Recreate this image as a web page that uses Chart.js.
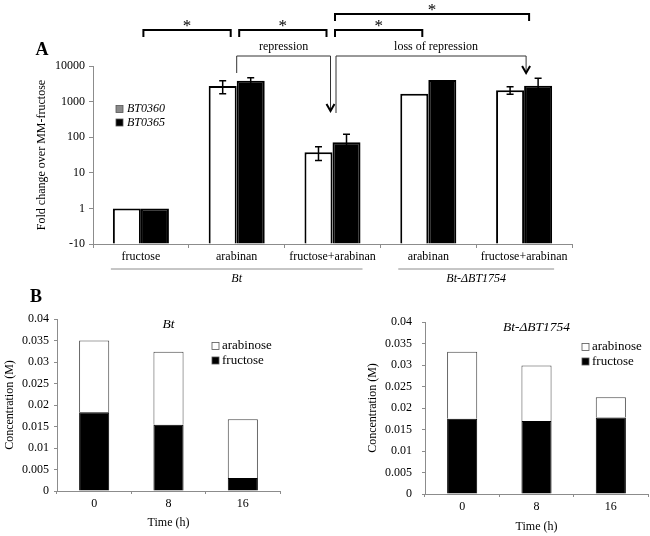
<!DOCTYPE html>
<html lang="en">
<head>
<meta charset="UTF-8">
<title>Fold change and sugar concentration</title>
<script src="https://cdn.jsdelivr.net/npm/chart.js"></script>
<style>
  body { margin: 0; background: #fff; }
  #wrap { position: relative; width: 650px; height: 536px; }
  canvas { position: absolute; }
</style>
</head>
<body>
<div id="wrap">
  <canvas id="chartA" width="650" height="284" style="left:0;top:0"></canvas>
  <canvas id="chartB1" width="325" height="252" style="left:0;top:284px"></canvas>
  <canvas id="chartB2" width="325" height="252" style="left:325px;top:284px"></canvas>
</div>
<script>
// panel A - fold change over MM-fructose (log axis)
const conditions = ['fructose', 'arabinan', 'fructose+arabinan', 'arabinan', 'fructose+arabinan'];
const strains = [{ name: 'Bt', from: 0, to: 2 }, { name: 'Bt-ΔBT1754', from: 3, to: 4 }];
const bt0360 = [1, 2750, 38, 1650, 2100];
const bt0365 = [1, 3850, 72, 4050, 2800];
const bt0360Err = [0, 1080, 16, 0, 500];
const bt0365Err = [0, 850, 50, 0, 1700];
const foldTicks = [0.1, 1, 10, 100, 1000, 10000];
const foldTickLabels = ['-10', '1', '10', '100', '1000', '10000'];
// significance brackets: [from, to, level]
const brackets = [[0, 1, 0], [1, 2, 0], [2, 3, 0], [2, 4, 1]];

// panel B - concentration (M) over time
const hours = ['0', '8', '16'];
const btFructose = [0.0183, 0.0154, 0.003];
const btArabinose = [0.0167, 0.017, 0.0137];
const mutFructose = [0.0175, 0.017, 0.0178];
const mutArabinose = [0.0156, 0.0129, 0.0047];

const serif = '"Liberation Serif", "Times New Roman", serif';
const axisGray = '#8c8c8c';

function arrowHead(ctx, x, y) {
  ctx.save();
  ctx.strokeStyle = '#000';
  ctx.lineWidth = 2;
  ctx.beginPath();
  ctx.moveTo(x - 4, y - 7);
  ctx.lineTo(x, y);
  ctx.lineTo(x + 4, y - 7);
  ctx.stroke();
  ctx.restore();
}

const panelA = {
  id: 'panelA',
  afterDatasetsDraw(chart) {
    const ctx = chart.ctx, y = chart.scales.y;
    ctx.save();
    ctx.strokeStyle = '#000';
    ctx.lineWidth = 1.5;
    [bt0360Err, bt0365Err].forEach((errs, d) => {
      const vals = chart.data.datasets[d].data;
      chart.getDatasetMeta(d).data.forEach((bar, i) => {
        if (!errs[i]) return;
        const yt = y.getPixelForValue(vals[i] + errs[i]);
        const yb = y.getPixelForValue(vals[i] - errs[i]);
        ctx.beginPath();
        ctx.moveTo(bar.x, yt); ctx.lineTo(bar.x, yb);
        ctx.moveTo(bar.x - 3.5, yt); ctx.lineTo(bar.x + 3.5, yt);
        ctx.moveTo(bar.x - 3.5, yb); ctx.lineTo(bar.x + 3.5, yb);
        ctx.stroke();
      });
    });
    ctx.restore();
  },
  afterDraw(chart) {
    const ctx = chart.ctx, x = chart.scales.x, area = chart.chartArea;
    const cx = i => x.getPixelForValue(i);
    const m0 = chart.getDatasetMeta(0).data, m1 = chart.getDatasetMeta(1).data;
    ctx.save();

    // panel letter
    ctx.fillStyle = '#000';
    ctx.font = 'bold 18px ' + serif;
    ctx.textAlign = 'center';
    ctx.textBaseline = 'middle';
    ctx.fillText('A', 42, area.top - 16);

    // legend
    const names = chart.data.datasets.map(d => d.label);
    const swatch = ['#8a8a8a', '#000'];
    ctx.font = 'italic 12px ' + serif;
    ctx.textAlign = 'left';
    names.forEach((n, i) => {
      const ly = area.top + 43 + i * 13.5;
      ctx.fillStyle = swatch[i];
      ctx.fillRect(area.left + 23, ly - 3.5, 7, 7);
      ctx.strokeStyle = '#555';
      ctx.lineWidth = 0.8;
      ctx.strokeRect(area.left + 23, ly - 3.5, 7, 7);
      ctx.fillStyle = '#000';
      ctx.fillText(n, area.left + 34, ly);
    });

    // strain group labels under the axis
    ctx.strokeStyle = axisGray;
    ctx.lineWidth = 1;
    ctx.textAlign = 'center';
    strains.forEach(s => {
      const l = m0[s.from].x - m0[s.from].width / 2 - 2;
      const r = m1[s.to].x + m1[s.to].width / 2 + 2;
      ctx.beginPath();
      ctx.moveTo(l, area.bottom + 25); ctx.lineTo(r, area.bottom + 25);
      ctx.stroke();
      ctx.fillText(s.name, (l + r) / 2, area.bottom + 35);
    });

    // significance brackets
    ctx.strokeStyle = '#000';
    ctx.lineWidth = 2;
    ctx.font = '17px ' + serif;
    brackets.forEach(([a, b, lvl]) => {
      const l = cx(a) + 2.5;
      const r = lvl ? cx(b) + 5 : cx(b) - 6;
      const top = area.top - (lvl ? 52 : 36);
      ctx.beginPath();
      ctx.moveTo(l, top + 7); ctx.lineTo(l, top); ctx.lineTo(r, top); ctx.lineTo(r, top + 7);
      ctx.stroke();
      ctx.fillText('*', (l + r) / 2, top - 3);
    });

    // repression / loss of repression arrows
    const yTop = area.top - 10;
    ctx.strokeStyle = '#333';
    ctx.lineWidth = 1;
    const rx0 = cx(1), rx1 = cx(2) - 2;
    ctx.beginPath();
    ctx.moveTo(rx0, area.top + 7); ctx.lineTo(rx0, yTop); ctx.lineTo(rx1, yTop); ctx.lineTo(rx1, area.top + 45);
    ctx.stroke();
    arrowHead(ctx, rx1, area.top + 45);
    const lx0 = cx(2) + 3.5, lx1 = cx(4) + 2;
    ctx.strokeStyle = '#333';
    ctx.lineWidth = 1;
    ctx.beginPath();
    ctx.moveTo(lx0, area.top + 47); ctx.lineTo(lx0, yTop); ctx.lineTo(lx1, yTop); ctx.lineTo(lx1, area.top + 7);
    ctx.stroke();
    arrowHead(ctx, lx1, area.top + 7);
    ctx.fillStyle = '#000';
    ctx.font = '12px ' + serif;
    ctx.fillText('repression', (rx0 + rx1) / 2, area.top - 19);
    ctx.fillText('loss of repression', (lx0 + lx1) / 2 + 5, area.top - 19);
    ctx.restore();
  }
};

new Chart(document.getElementById('chartA'), {
  type: 'bar',
  data: {
    labels: conditions,
    datasets: [
      { label: 'BT0360', data: bt0360, backgroundColor: '#fff', borderColor: '#000', borderWidth: 2, base: 0.1 },
      { label: 'BT0365', data: bt0365, backgroundColor: '#000', borderColor: '#000', borderWidth: 2, base: 0.1 }
    ]
  },
  options: {
    responsive: false,
    animation: false,
    devicePixelRatio: 1,
    categoryPercentage: 0.585,
    barPercentage: 1,
    layout: { padding: { top: 66, right: 78, left: 0, bottom: 0 } },
    plugins: { legend: { display: false }, tooltip: { enabled: false } },
    scales: {
      x: {
        afterFit: s => { s.height = 40; },
        ticks: { font: { family: serif, size: 12 }, color: '#000', padding: 2, maxRotation: 0, autoSkip: false },
        grid: { drawOnChartArea: false, tickLength: 4, color: axisGray, offset: true },
        border: { color: axisGray }
      },
      y: {
        type: 'logarithmic',
        min: 0.1,
        max: 10000,
        afterBuildTicks: s => { s.ticks = foldTicks.map(v => ({ value: v })); },
        afterFit: s => { s.width = 93; },
        ticks: { callback: (v, i) => foldTickLabels[i], font: { family: serif, size: 12 }, color: '#000', padding: 4 },
        grid: { drawOnChartArea: false, tickLength: 4, color: axisGray },
        border: { color: axisGray },
        title: { display: true, text: 'Fold change over MM-fructose', font: { family: serif, size: 12 }, color: '#000', padding: { top: 35, bottom: 0 } }
      }
    }
  },
  plugins: [panelA]
});

// panel B charts
function concChart(id, title, fructose, arabinose, box) {
  const decor = {
    id: 'decor' + id,
    afterDraw(chart) {
      const ctx = chart.ctx, area = chart.chartArea;
      ctx.save();
      ctx.fillStyle = '#000';
      ctx.textBaseline = 'middle';
      if (box.letter) {
        ctx.font = 'bold 18px ' + serif;
        ctx.textAlign = 'center';
        ctx.fillText(box.letter, 36, area.top - 22);
      }
      ctx.font = 'italic 13.5px ' + serif;
      ctx.textAlign = 'center';
      ctx.fillText(title, (area.left + area.right) / 2, area.top + 5);
      // legend: arabinose first, then fructose
      const items = [chart.data.datasets[1], chart.data.datasets[0]];
      ctx.font = '13px ' + serif;
      ctx.textAlign = 'left';
      items.forEach((d, i) => {
        const ly = area.top + box.legendTop + i * 14.5;
        const lx = area.right - box.legendRight;
        ctx.fillStyle = d.backgroundColor;
        ctx.fillRect(lx, ly - 3.5, 7, 7);
        ctx.strokeStyle = '#555';
        ctx.lineWidth = 0.8;
        ctx.strokeRect(lx, ly - 3.5, 7, 7);
        ctx.fillStyle = '#000';
        ctx.fillText(d.label, lx + 10, ly);
      });
      ctx.restore();
    }
  };
  return new Chart(document.getElementById(id), {
    type: 'bar',
    data: {
      labels: hours,
      datasets: [
        { label: 'fructose', data: fructose, backgroundColor: '#000', borderColor: '#000', borderWidth: 1 },
        { label: 'arabinose', data: arabinose, backgroundColor: '#fff', borderColor: '#444', borderWidth: 1 }
      ]
    },
    options: {
      responsive: false,
      animation: false,
      devicePixelRatio: 1,
      categoryPercentage: 1,
      barPercentage: 0.405,
      layout: { padding: box.padding },
      plugins: { legend: { display: false }, tooltip: { enabled: false } },
      scales: {
        x: {
          stacked: true,
          afterFit: s => { s.height = box.xHeight; },
          ticks: { font: { family: serif, size: 12 }, color: '#000', padding: 3 },
          grid: { drawOnChartArea: false, tickLength: 3, color: axisGray, offset: true },
          border: { color: axisGray },
          title: { display: true, text: 'Time (h)', font: { family: serif, size: 12 }, color: '#000', padding: { top: 0, bottom: box.xTitlePad } }
        },
        y: {
          stacked: true,
          min: 0,
          max: 0.04,
          afterFit: s => { s.width = box.yWidth; },
          ticks: { stepSize: 0.005, callback: v => String(+v.toFixed(3)), font: { family: serif, size: 12 }, color: '#000', padding: box.yTickPad },
          grid: { drawOnChartArea: false, tickLength: 3, color: axisGray },
          border: { color: axisGray },
          title: { display: true, text: 'Concentration (M)', font: { family: serif, size: 12 }, color: '#000', padding: { top: box.yTitlePad, bottom: 0 } }
        }
      }
    },
    plugins: [decor]
  });
}

concChart('chartB1', 'Bt', btFructose, btArabinose, {
  letter: 'B',
  padding: { top: 35, right: 45, left: 0, bottom: 0 },
  xHeight: 45, yWidth: 57, yTickPad: 5, yTitlePad: 3, xTitlePad: 6,
  legendTop: 27, legendRight: 68
});
concChart('chartB2', 'Bt-ΔBT1754', mutFructose, mutArabinose, {
  padding: { top: 38, right: 2, left: 0, bottom: 0 },
  xHeight: 42, yWidth: 100, yTickPad: 10, yTitlePad: 41, xTitlePad: 2,
  legendTop: 25, legendRight: 66
});
</script>
</body>
</html>
